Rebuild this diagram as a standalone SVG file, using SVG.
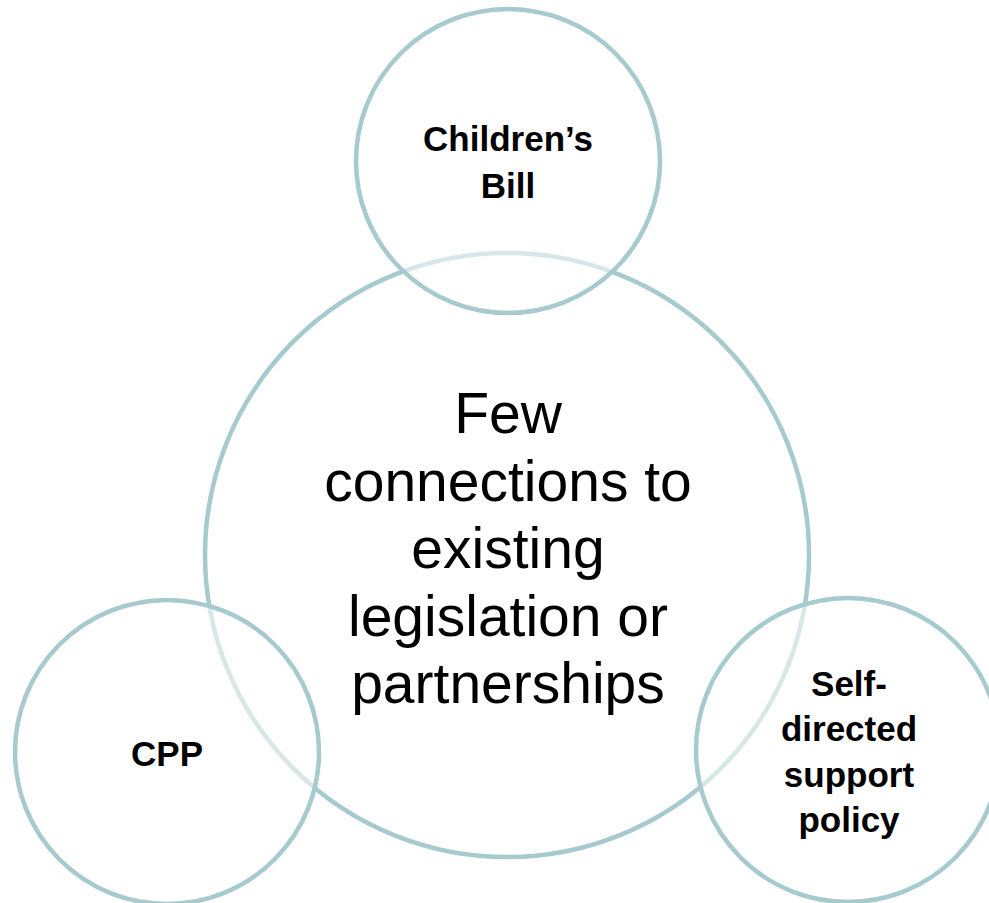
<svg xmlns="http://www.w3.org/2000/svg" width="989" height="903" viewBox="0 0 989 903">
<style>
.c{stroke:#a6cacd;stroke-width:4.5;}
.big{fill:none;}
.sm{fill:#ffffff;fill-opacity:0.55;}
.lb{font-family:"Liberation Sans",Arial,sans-serif;font-weight:bold;font-size:35px;fill:#000;text-anchor:middle;}
.main{font-family:"Liberation Sans",Arial,sans-serif;font-size:57px;fill:#000;text-anchor:middle;}
</style>
<rect width="989" height="903" fill="#ffffff"/>
<g id="center">
<circle class="c big" cx="507" cy="555" r="302"/>
<text class="main"><tspan x="508" y="433">Few</tspan><tspan x="508" y="501">connections to</tspan><tspan x="508" y="568">existing</tspan><tspan x="508" y="636">legislation or</tspan><tspan x="508" y="703">partnerships</tspan></text>
</g>
<g id="childrens-bill">
<circle class="c sm" cx="508" cy="161" r="152"/>
<text class="lb"><tspan x="508" y="151">Children’s</tspan><tspan x="508" y="198">Bill</tspan></text>
</g>
<g id="cpp">
<circle class="c sm" cx="167" cy="752" r="152"/>
<text class="lb" x="167" y="766">CPP</text>
</g>
<g id="self-directed">
<circle class="c sm" cx="848" cy="750" r="152"/>
<text class="lb"><tspan x="849" y="696">Self-</tspan><tspan x="849" y="741">directed</tspan><tspan x="849" y="787">support</tspan><tspan x="849" y="832">policy</tspan></text>
</g>
<g id="connectors"/>
</svg>
